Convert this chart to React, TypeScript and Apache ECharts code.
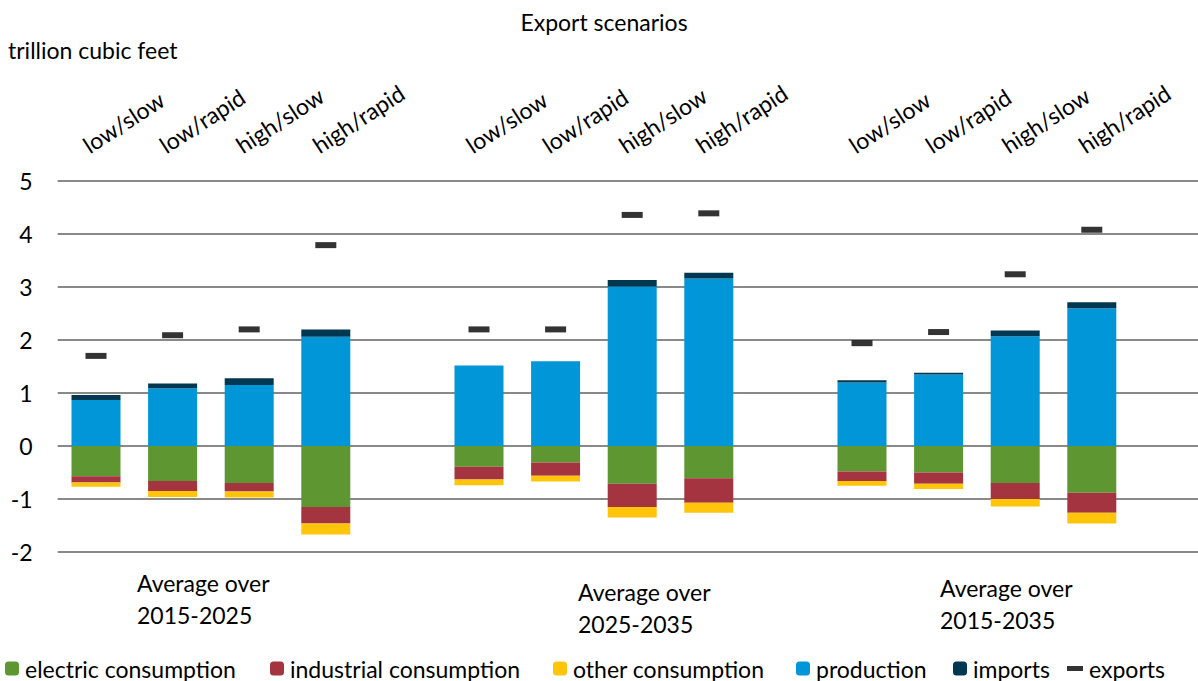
import React, { useEffect, useRef } from "react";
import * as echarts from "echarts";

const scenarios = ["low/slow", "low/rapid", "high/slow", "high/rapid"];
const periods = ["Average over\n2015-2025", "Average over\n2025-2035", "Average over\n2015-2035"];
const yTicks = { min: -2, max: 5, interval: 1 };

// values per period group (4 scenarios each), trillion cubic feet
const electricG1 = [-0.57, -0.66, -0.7, -1.15];
const electricG2 = [-0.39, -0.31, -0.71, -0.61];
const electricG3 = [-0.48, -0.5, -0.7, -0.88];
const industrialG1 = [-0.12, -0.19, -0.16, -0.31];
const industrialG2 = [-0.24, -0.25, -0.44, -0.46];
const industrialG3 = [-0.18, -0.21, -0.3, -0.38];
const otherG1 = [-0.08, -0.11, -0.11, -0.21];
const otherG2 = [-0.11, -0.11, -0.2, -0.19];
const otherG3 = [-0.09, -0.1, -0.14, -0.2];
const productionG1 = [0.87, 1.09, 1.15, 2.06];
const productionG2 = [1.52, 1.6, 3.01, 3.16];
const productionG3 = [1.2, 1.35, 2.07, 2.6];
const importsG1 = [0.09, 0.09, 0.13, 0.14];
const importsG2 = [0, 0, 0.12, 0.11];
const importsG3 = [0.04, 0.03, 0.11, 0.11];
const exportsG1 = [1.7, 2.09, 2.2, 3.79];
const exportsG2 = [2.2, 2.2, 4.36, 4.39];
const exportsG3 = [1.94, 2.15, 3.24, 4.08];

const FONT = "Lato, 'Open Sans', sans-serif";
const FS = 23;

function joinGroups(a: number[], b: number[], c: number[]) {
  return [...a, null, ...b, null, ...c];
}

const categoryKeys = [
  ...scenarios.map((s) => "g1 " + s),
  "gap1",
  ...scenarios.map((s) => "g2 " + s),
  "gap2",
  ...scenarios.map((s) => "g3 " + s),
];
const categoryLabels = [...scenarios, "", ...scenarios, "", ...scenarios];

export default function App() {
  const ref = useRef<HTMLDivElement>(null);
  useEffect(() => {
    if (!ref.current) return;
    const chart = echarts.init(ref.current, null, { renderer: "svg" });
    const gridLeft = 57.7;
    const gridTop = 181;
    const gridHeight = 371;
    const catWidth = 76.6;
    const barGridWidth = catWidth * categoryKeys.length;

    const barSeries = (name: string, color: string, data: (number | null)[]) => ({
      name,
      type: "bar",
      stack: "total",
      xAxisIndex: 1,
      yAxisIndex: 1,
      barWidth: 49,
      itemStyle: { color },
      data,
    });

    const legendItem = (name: string, left: number, icon?: string, w = 14, h = 14) => ({
      show: true,
      left,
      top: 657,
      padding: 0,
      itemWidth: w,
      itemHeight: h,
      data: [icon ? { name, icon } : name],
      textStyle: { fontFamily: FONT, fontSize: FS, color: "#000", padding: [0, 0, 0, 1] },
      selectedMode: false,
    });

    const textFont = `${FS}px ${FONT}`;
    const periodText = (x: number, y: number, text: string) => ({
      type: "text",
      x,
      y,
      style: { text, font: textFont, fill: "#000", lineHeight: 32, verticalAlign: "top" },
    });

    chart.setOption({
      animation: false,
      backgroundColor: "#fff",
      textStyle: { fontFamily: FONT },
      grid: [
        { left: gridLeft, top: gridTop, right: 0, height: gridHeight, outerBoundsMode: "none", containLabel: false },
        { left: gridLeft, top: gridTop, width: barGridWidth, height: gridHeight, outerBoundsMode: "none", containLabel: false },
        { left: gridLeft - 11, top: gridTop, width: barGridWidth, height: gridHeight, outerBoundsMode: "none", containLabel: false },
      ],
      xAxis: [
        { gridIndex: 0, type: "value", show: false, min: 0, max: 1 },
        {
          gridIndex: 1,
          type: "category",
          data: categoryKeys,
          show: false,
        },
        {
          gridIndex: 2,
          type: "category",
          position: "top",
          data: categoryKeys,
          axisLine: { show: false },
          axisTick: { show: false },
          axisLabel: {
            interval: 0,
            rotate: 33,
            margin: 34,
            fontFamily: FONT,
            fontSize: FS,
            color: "#000",
            formatter: (_v: string, i: number) => categoryLabels[i],
          },
        },
      ],
      yAxis: [
        {
          gridIndex: 0,
          type: "value",
          min: yTicks.min,
          max: yTicks.max,
          interval: yTicks.interval,
          axisLine: { show: false },
          axisTick: { show: false },
          splitLine: { lineStyle: { color: "#898989", width: 2 } },
          axisLabel: { margin: 25, fontFamily: FONT, fontSize: FS, color: "#000" },
        },
        { gridIndex: 1, type: "value", min: yTicks.min, max: yTicks.max, interval: yTicks.interval, show: false, splitLine: { show: false } },
        { gridIndex: 2, type: "value", min: yTicks.min, max: yTicks.max, interval: yTicks.interval, show: false, splitLine: { show: false } },
      ],
      legend: [
        legendItem("electric consumption", 5),
        legendItem("industrial consumption", 270),
        legendItem("other consumption", 553),
        legendItem("production", 796),
        legendItem("imports", 953),
        legendItem("exports", 1067, "rect", 16, 5),
      ],
      graphic: [
        { type: "text", x: 604, y: 22, style: { text: "Export scenarios", font: textFont, fill: "#000", align: "center", verticalAlign: "middle" } },
        { type: "text", x: 8, y: 50, style: { text: "trillion cubic feet", font: textFont, fill: "#000", align: "left", verticalAlign: "middle" } },
        periodText(137, 567, periods[0]),
        periodText(578, 576, periods[1]),
        periodText(940, 572, periods[2]),
      ],
      series: [
        barSeries("electric consumption", "#5e9732", joinGroups(electricG1, electricG2, electricG3)),
        barSeries("industrial consumption", "#a4343f", joinGroups(industrialG1, industrialG2, industrialG3)),
        barSeries("other consumption", "#ffc50a", joinGroups(otherG1, otherG2, otherG3)),
        barSeries("production", "#0096d7", joinGroups(productionG1, productionG2, productionG3)),
        barSeries("imports", "#003851", joinGroups(importsG1, importsG2, importsG3)),
        {
          name: "exports",
          type: "scatter",
          xAxisIndex: 1,
          yAxisIndex: 1,
          symbol: "rect",
          symbolSize: [21, 6],
          itemStyle: { color: "#000" },
          z: 5,
          data: joinGroups(exportsG1, exportsG2, exportsG3),
        },
      ],
    });
    return () => chart.dispose();
  }, []);
  return (
    <div
      ref={ref}
      style={{ position: "absolute", left: 0, top: 0, width: 1198, height: 681 }}
    />
  );
}
